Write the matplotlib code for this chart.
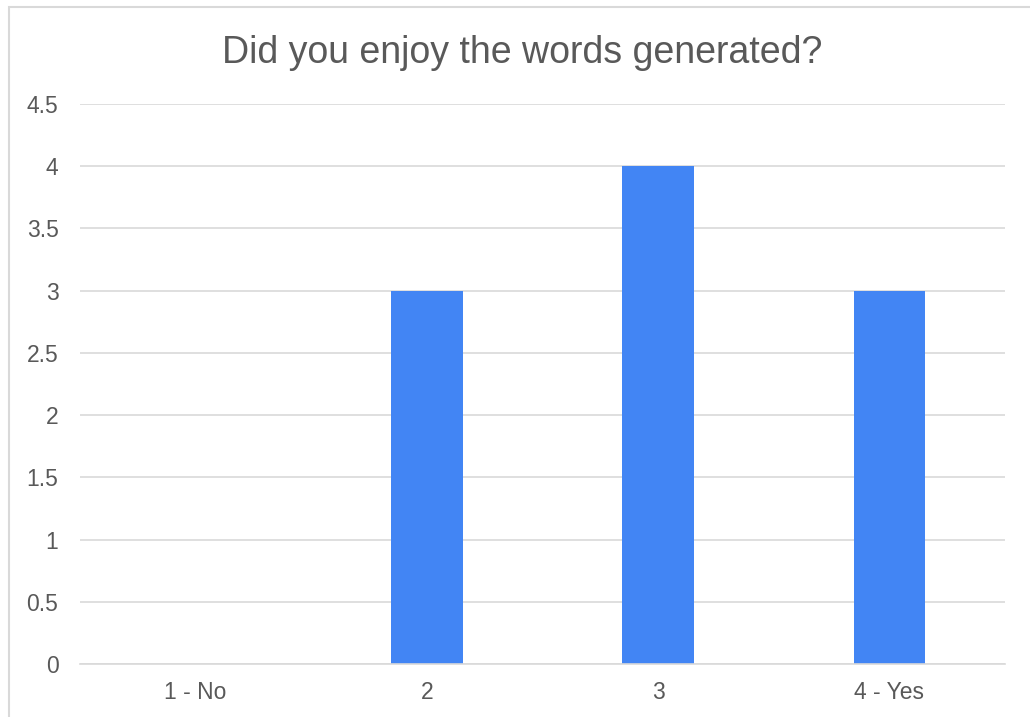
import matplotlib
matplotlib.use("Agg")
import matplotlib.pyplot as plt
from matplotlib.patches import Rectangle

categories = ["1 - No", "2", "3", "4 - Yes"]
counts = [0, 3, 4, 3]
y_ticks = [0, 0.5, 1, 1.5, 2, 2.5, 3, 3.5, 4, 4.5]
y_tick_labels = ["0", "0.5", "1", "1.5", "2", "2.5", "3", "3.5", "4", "4.5"]
title = "Did you enjoy the words generated?"

plt.rcParams["font.family"] = ["Liberation Sans", "DejaVu Sans"]
text_color = "#595959"

fig = plt.figure(figsize=(10.30, 7.17), dpi=100)
fig.patch.set_facecolor("white")

# chart frame (runs off the right and bottom edges)
fig.patches.append(Rectangle((9 / 1030, -0.05), 1.1, 1.05 - 7 / 717,
                             transform=fig.transFigure, fill=False,
                             edgecolor="#d9d9d9", linewidth=1.5))

ax = fig.add_axes([80 / 1030, 1 - 664 / 717, 925 / 1030, 560 / 717])
x = range(len(categories))
ax.bar(x, counts, width=0.31, color="#4285F4", zorder=3)

ax.set_xlim(-0.5, len(categories) - 0.5)
ax.set_ylim(0, 4.5)
ax.set_yticks(y_ticks)
ax.set_yticklabels(y_tick_labels)
ax.set_xticks(list(x))
ax.set_xticklabels(categories)
ax.tick_params(axis="both", length=0, labelsize=16.5, labelcolor=text_color)
ax.tick_params(axis="y", pad=15.5)
ax.tick_params(axis="x", pad=12)
ax.grid(axis="y", color="#d9d9d9", linewidth=1.2, zorder=0)
for s in ["top", "right", "left"]:
    ax.spines[s].set_visible(False)
ax.spines["bottom"].set_color("#d9d9d9")
ax.spines["bottom"].set_linewidth(1.2)
ax.spines["bottom"].set_zorder(4)

fig.text(522 / 1030, 1 - 63 / 717, title, ha="center", va="baseline",
         fontsize=27, color=text_color)

fig.savefig("out.png", dpi=100)
